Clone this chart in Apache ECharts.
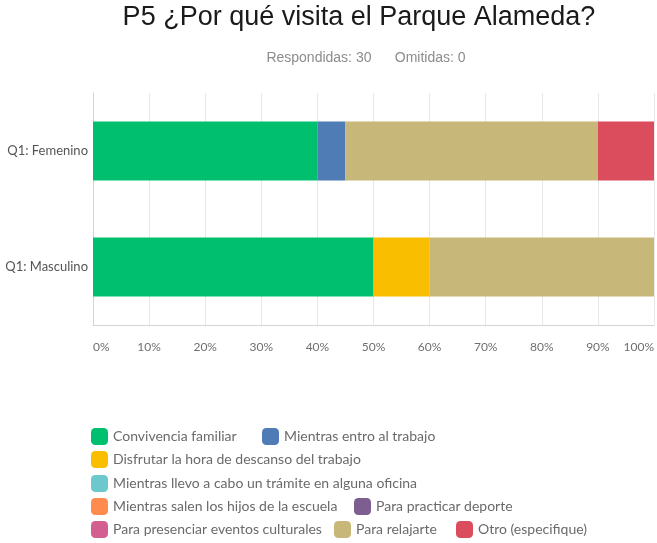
<!DOCTYPE html>
<html>
<head>
<meta charset="utf-8">
<script src="https://cdn.jsdelivr.net/npm/echarts@6/dist/echarts.min.js"></script>
<style>
	html, body { margin: 0; padding: 0; background: #fff; }
	#chart { width: 657px; height: 543px; }
</style>
</head>
<body>
<div id="chart"></div>
<script>
	// categories (top to bottom)
	var categories = ['Q1: Femenino', 'Q1: Masculino'];

	// percentages per answer, [Femenino, Masculino]
	var convivencia = [40, 50];
	var entroTrabajo = [5, 0];
	var descanso = [0, 10];
	var tramite = [0, 0];
	var hijosEscuela = [0, 0];
	var deporte = [0, 0];
	var culturales = [0, 0];
	var relajarte = [45, 40];
	var otro = [10, 0];

	var seriesNames = [
		'Convivencia familiar',
		'Mientras entro al trabajo',
		'Disfrutar la hora de descanso del trabajo',
		'Mientras llevo a cabo un trámite en alguna oficina',
		'Mientras salen los hijos de la escuela',
		'Para practicar deporte',
		'Para presenciar eventos culturales',
		'Para relajarte',
		'Otro (especifique)'
	];
	var seriesValues = [convivencia, entroTrabajo, descanso, tramite, hijosEscuela, deporte, culturales, relajarte, otro];
	var colors = ['#00BF6F', '#507CB6', '#F9BE00', '#6BC8CD', '#FF8B4F', '#7D5E90', '#D25F90', '#C7B879', '#DB4D5C'];

	// legend placement: [left, top] per item
	var legendPos = [
		[91, 428], [262, 428],
		[91, 451],
		[91, 475],
		[91, 498], [354, 498],
		[91, 521], [334, 521], [456, 521]
	];

	var myChart = echarts.init(document.getElementById('chart'));

	var series = seriesNames.map(function (name, i) {
		return {
			name: name,
			type: 'bar',
			stack: 'total',
			barWidth: 59,
			itemStyle: { color: colors[i] },
			emphasis: { disabled: true },
			data: seriesValues[i]
		};
	});

	var legends = seriesNames.map(function (name, i) {
		return {
			data: [name],
			left: legendPos[i][0],
			top: legendPos[i][1],
			padding: 0,
			icon: 'roundRect',
			itemWidth: 17,
			itemHeight: 17,
			itemGap: 5,
			selectedMode: false,
			textStyle: { fontFamily: 'Lato', fontSize: 14, color: '#6a6a6a' }
		};
	});

	myChart.setOption({
		animation: false,
		color: colors,
		title: [{
			text: 'P5 ¿Por qué visita el Parque Alameda?',
			left: 359,
			top: 4,
			padding: 0,
			textAlign: 'center',
			textStyle: { fontFamily: 'Liberation Sans', fontSize: 27, fontWeight: 'normal', color: '#1a1a1a' }
		}, {
			text: 'Respondidas: 30      Omitidas: 0',
			left: 366,
			top: 51,
			padding: 0,
			textAlign: 'center',
			textStyle: { fontFamily: 'Liberation Sans', fontSize: 14, fontWeight: 'normal', color: '#8c8c8c' }
		}],
		legend: legends,
		grid: {
			left: 93,
			right: 2,
			top: 93,
			bottom: 218,
			containLabel: false
		},
		xAxis: {
			type: 'value',
			min: 0,
			max: 100,
			interval: 10,
			axisLine: { show: true, lineStyle: { color: '#d4d4d4' } },
			axisTick: { show: false },
			splitLine: { show: true, lineStyle: { color: '#e8e8e8' } },
			axisLabel: {
				formatter: '{value}%',
				margin: 16,
				fontFamily: 'Lato',
				fontSize: 12,
				color: '#6f6f6f',
				alignMinLabel: 'left',
				alignMaxLabel: 'right'
			}
		},
		yAxis: {
			type: 'category',
			inverse: true,
			data: categories,
			axisLine: { show: true, lineStyle: { color: '#d4d4d4' } },
			axisTick: { show: false },
			axisLabel: {
				margin: 5,
				fontFamily: 'Lato',
				fontSize: 13,
				color: '#555'
			}
		},
		series: series
	});
</script>
</body>
</html>
